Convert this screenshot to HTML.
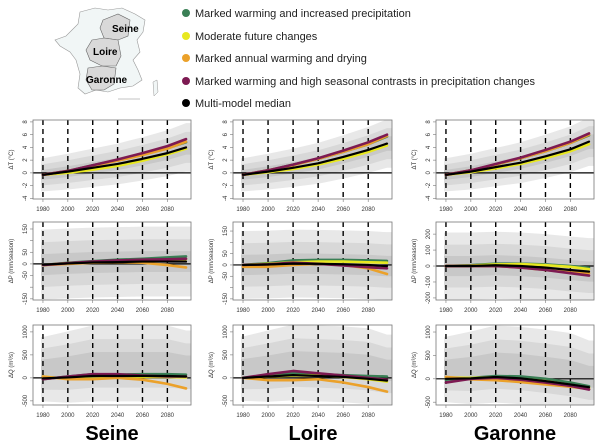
<!DOCTYPE html>
<html><head><meta charset="utf-8"><style>
body{margin:0;background:#fff;width:600px;height:446px;overflow:hidden;font-family:"Liberation Sans",sans-serif}
svg{display:block}
</style></head><body>
<svg id="fig" width="600" height="446" xmlns="http://www.w3.org/2000/svg">
<g>
<path d="M80,12 L95,8 L108,10 L122,8 L135,14 L145,20 L143,32 L137,40 L140,52 L133,60 L138,70 L142,80 L133,86 L120,88 L108,92 L96,90 L85,94 L78,88 L80,74 L76,60 L70,52 L60,46 L55,40 L66,36 L72,30 L78,24 Z" fill="#f1f6f6" stroke="#999" stroke-width="0.6"/>
<path d="M103,20 L118,14 L130,20 L128,36 L118,40 L104,38 L100,28 Z" fill="#d9d9d9" stroke="#666" stroke-width="0.6"/>
<path d="M92,40 L104,38 L118,40 L121,56 L116,66 L102,66 L90,60 L86,50 Z" fill="#d9d9d9" stroke="#666" stroke-width="0.6"/>
<path d="M88,68 L102,66 L116,68 L114,84 L104,90 L92,90 L86,80 Z" fill="#d9d9d9" stroke="#666" stroke-width="0.6"/>
<path d="M153,82 L157,80 L158,92 L154,96 Z" fill="#f1f6f6" stroke="#999" stroke-width="0.5"/>
<line x1="118" y1="99" x2="140" y2="99" stroke="#888" stroke-width="0.6"/>
<text x="112" y="32" font-size="10" font-weight="bold" font-family="Liberation Sans,sans-serif">Seine</text>
<text x="93" y="55" font-size="10" font-weight="bold" font-family="Liberation Sans,sans-serif">Loire</text>
<text x="86" y="83" font-size="10" font-weight="bold" font-family="Liberation Sans,sans-serif">Garonne</text>
</g>
<g id="legend"></g>
<g id="panels"></g>
<text x="112" y="440" text-anchor="middle" font-size="20" font-weight="bold">Seine</text>
<text x="313" y="440" text-anchor="middle" font-size="20" font-weight="bold">Loire</text>
<text x="515" y="440" text-anchor="middle" font-size="20" font-weight="bold">Garonne</text>
</svg>
<script>
const years=[1980,2000,2020,2040,2060,2080,2095];
const scenarioNames=["Marked warming and increased precipitation","Moderate future changes","Marked annual warming and drying","Marked warming and high seasonal contrasts in precipitation changes","Multi-model median"];
const scenarioKeys=["green","yellow","orange","purple","black"];
const colors={green:"#3a7f55",yellow:"#e8e820",orange:"#eba12a",purple:"#7d1a52",black:"#000"};
// Temperature
const tSeine={green:[-0.3,0.3,1.2,2.0,2.9,3.9,4.8],yellow:[-0.3,0.0,0.5,1.1,1.9,2.9,3.8],orange:[-0.3,0.3,1.1,1.9,2.8,3.8,4.9],purple:[-0.3,0.3,1.2,2.1,3.1,4.2,5.3],black:[-0.3,0.2,0.8,1.4,2.2,3.1,4.0]};
const tLoire={green:[-0.3,0.4,1.3,2.2,3.3,4.5,5.7],yellow:[-0.3,0.1,0.6,1.3,2.2,3.3,4.3],orange:[-0.3,0.4,1.2,2.2,3.3,4.5,5.8],purple:[-0.3,0.4,1.3,2.3,3.5,4.8,6.0],black:[-0.3,0.2,0.8,1.5,2.5,3.6,4.6]};
const tGaronne={green:[-0.3,0.4,1.3,2.3,3.4,4.7,5.9],yellow:[-0.3,0.1,0.7,1.4,2.3,3.4,4.5],orange:[-0.3,0.4,1.3,2.3,3.4,4.7,6.0],purple:[-0.3,0.4,1.4,2.4,3.6,4.9,6.2],black:[-0.3,0.2,0.9,1.6,2.6,3.7,4.9]};
// Precipitation
const pSeine={green:[-5,5,12,18,22,28,32],yellow:[-5,3,8,12,15,18,20],orange:[-5,0,5,8,5,-5,-15],purple:[-5,3,10,15,18,20,22],black:[-3,2,6,8,10,10,10]};
const pLoire={green:[0,8,20,22,22,20,18],yellow:[0,5,12,15,15,12,10],orange:[-8,-8,0,5,0,-15,-40],purple:[0,3,10,5,-2,-10,-15],black:[0,2,6,5,3,0,-5]};
const pGaronne={green:[0,5,15,15,10,0,-10],yellow:[0,3,10,12,5,-5,-20],orange:[0,0,0,-10,-25,-40,-45],purple:[0,0,0,-10,-25,-45,-60],black:[0,0,5,0,-10,-25,-35]};
// Discharge
const qSeine={green:[-30,30,80,70,80,80,70],yellow:[30,-20,-20,10,20,20,10],orange:[30,-30,-30,0,-40,-130,-230],purple:[-30,30,80,80,50,30,30],black:[-10,10,40,40,40,40,30]};
const qLoire={green:[0,50,100,80,60,40,30],yellow:[0,30,50,50,20,-30,-80],orange:[0,-50,-50,-30,-100,-200,-300],purple:[0,80,150,100,50,0,-40],black:[0,30,60,40,20,-20,-60]};
const qGaronne={green:[-20,20,60,50,0,-80,-160],yellow:[30,20,30,0,-50,-130,-190],orange:[40,-10,-30,-70,-120,-170,-220],purple:[-80,0,20,-20,-80,-150,-230],black:[0,10,40,10,-50,-120,-180]};
const xTicks=[1980,2000,2020,2040,2060,2080];
const tTicks=[-4,-2,0,2,4,6,8];
const pTicksA=[-150,-100,-50,0,50,100,150];
const pLabelsA=[-150,-50,0,50,150];
const pTicksC=[-200,-100,0,100,200];
const qTicks=[-500,0,500,1000];
// envelope half-widths (spread of grey ensemble)
const tSpread=[2.6,2.8,3.0,3.2,3.4,3.6,3.8];
const pSpread=[150,150,150,150,150,150,150];
const qSpreadUp=[900,1000,1100,1100,1100,1100,1000];
const qSpreadDn=[500,550,550,550,550,550,550];

const NS="http://www.w3.org/2000/svg";
function mk(tag,attrs,parent){const e=document.createElementNS(NS,tag);for(const k in attrs)e.setAttribute(k,attrs[k]);parent.appendChild(e);return e;}

const lg=document.getElementById('legend');
const legY=[13,36,58,81,103];
scenarioKeys.forEach((k,i)=>{
  const c=mk('circle',{cx:186,cy:legY[i],r:4,fill:colors[k]},lg);
  
  
  const t=mk('text',{x:195,y:legY[i]+4,'font-size':11,fill:'#222'},lg);
  t.textContent=scenarioNames[i];
  
  
});

const cols=[{x0:33,x1:191},{x0:233,x1:392},{x0:436,x1:594}];
const rows=[{y0:120,y1:199},{y0:222,y1:300},{y0:325,y1:405}];
const panels=[
 {r:0,c:0,data:tSeine,dom:[-4.1,8.3],ticks:tTicks,labels:tTicks,label:"ΔT (°C)",kind:"t"},
 {r:0,c:1,data:tLoire,dom:[-4.1,8.3],ticks:tTicks,labels:tTicks,label:"ΔT (°C)",kind:"t"},
 {r:0,c:2,data:tGaronne,dom:[-4.1,8.3],ticks:tTicks,labels:tTicks,label:"ΔT (°C)",kind:"t"},
 {r:1,c:0,data:pSeine,dom:[-155,180],ticks:pTicksA,labels:pLabelsA,label:"ΔP (mm/season)",kind:"p"},
 {r:1,c:1,data:pLoire,dom:[-155,190],ticks:pTicksA,labels:pLabelsA,label:"ΔP (mm/season)",kind:"p"},
 {r:1,c:2,data:pGaronne,dom:[-213,276],ticks:pTicksC,labels:pTicksC,label:"ΔP (mm/season)",kind:"p"},
 {r:2,c:0,data:qSeine,dom:[-590,1150],ticks:qTicks,labels:qTicks,label:"ΔQ (m³/s)",kind:"q"},
 {r:2,c:1,data:qLoire,dom:[-590,1150],ticks:qTicks,labels:qTicks,label:"ΔQ (m³/s)",kind:"q"},
 {r:2,c:2,data:qGaronne,dom:[-560,1150],ticks:qTicks,labels:qTicks,label:"ΔQ (m³/s)",kind:"q"}
];
const root=document.getElementById('panels');
const xDom=[1972,2099];
panels.forEach((p,pi)=>{
  const C=cols[p.c],R=rows[p.r];
  const sx=v=>C.x0+(v-xDom[0])/(xDom[1]-xDom[0])*(C.x1-C.x0);
  const sy=v=>R.y1-(v-p.dom[0])/(p.dom[1]-p.dom[0])*(R.y1-R.y0);
  const g=mk('g',{},root);
  
  
  const cid='clip'+pi;
  const cp=mk('clipPath',{id:cid},g);mk('rect',{x:C.x0,y:R.y0,width:C.x1-C.x0,height:R.y1-R.y0},cp);
  const inner=mk('g',{'clip-path':'url(#'+cid+')'},g);
  const med=p.data.black;
  const up=[],dn=[];
  const f=p.c===2?1.4:1;
  years.forEach((y,i)=>{
    let u,d;
    if(p.kind==='t'){u=med[i]+tSpread[i];d=med[i]-tSpread[i];}
    else if(p.kind==='p'){u=med[i]+pSpread[i]*f;d=med[i]-pSpread[i]*f;}
    else{u=med[i]+qSpreadUp[i];d=med[i]-qSpreadDn[i];}
    up.push([sx(y),sy(u)]);dn.push([sx(y),sy(d)]);
  });
  up.unshift([C.x0+8,up[0][1]]);up.push([C.x1,up[up.length-1][1]]);
  dn.unshift([C.x0+8,dn[0][1]]);dn.push([C.x1,dn[dn.length-1][1]]);
  const band=(a,b,fill,name)=>{
    const A=up.map((q,i)=>[q[0],q[1]*a+dn[i][1]*(1-a)]);
    const B=dn.map((q,i)=>[q[0],up[i][1]*b+q[1]*(1-b)]);
    const el=mk('polygon',{points:A.concat(B.slice().reverse()).map(q=>q.join(',')).join(' '),fill:fill},inner);
    
    
  };
  band(1,0,'#e8e8e8','ensemble-envelope');
  band(0.82,0.18,'#d8d8d8','ensemble-mid');
  band(0.65,0.35,'#c8c8c8','ensemble-core');
  xTicks.forEach(y=>{
    const l=mk('line',{x1:sx(y),x2:sx(y),y1:R.y0,y2:R.y1,stroke:'#000','stroke-width':1.4,'stroke-dasharray':'5,4'},inner);
    
    
  });
  const z=mk('line',{x1:C.x0,x2:C.x1,y1:sy(0),y2:sy(0),stroke:'#000','stroke-width':1.2},inner);
  
  
  scenarioKeys.forEach(k=>{
    const vals=p.data[k];
    const pts=years.map((y,i)=>sx(y)+','+sy(vals[i])).join(' ');
    const s=mk('polyline',{points:pts,fill:'none',stroke:colors[k],'stroke-width':k==='black'?2.2:2.6,'stroke-linejoin':'round','stroke-linecap':'round'},inner);
    
    
  });
  const fr=mk('rect',{x:C.x0,y:R.y0,width:C.x1-C.x0,height:R.y1-R.y0,fill:'none',stroke:'#777','stroke-width':0.8},g);
  
  
  xTicks.forEach(y=>{
    mk('line',{x1:sx(y),x2:sx(y),y1:R.y1,y2:R.y1+3,stroke:'#777','stroke-width':0.6},g);
    const t=mk('text',{x:sx(y),y:R.y1+12,'font-size':6,'text-anchor':'middle',fill:'#333'},g);
    t.textContent=y;
    
    
  });
  p.ticks.forEach(v=>{
    const yy=sy(v);
    mk('line',{x1:C.x0-3,x2:C.x0,y1:yy,y2:yy,stroke:'#777','stroke-width':0.6},g);
  });
  p.labels.forEach(v=>{
    const yy=sy(v);
    const t=mk('text',{x:C.x0-6,y:yy,'font-size':6,'text-anchor':'middle',fill:'#333',transform:'rotate(-90 '+(C.x0-6)+' '+yy+')'},g);
    t.textContent=v;
    
    
  });
  const ym=(R.y0+R.y1)/2;
  const yl=mk('text',{x:C.x0-20,y:ym,'font-size':6,'text-anchor':'middle',fill:'#333',transform:'rotate(-90 '+(C.x0-20)+' '+ym+')'},g);
  yl.textContent=p.label;
  
  
});
</script>
</body></html>
